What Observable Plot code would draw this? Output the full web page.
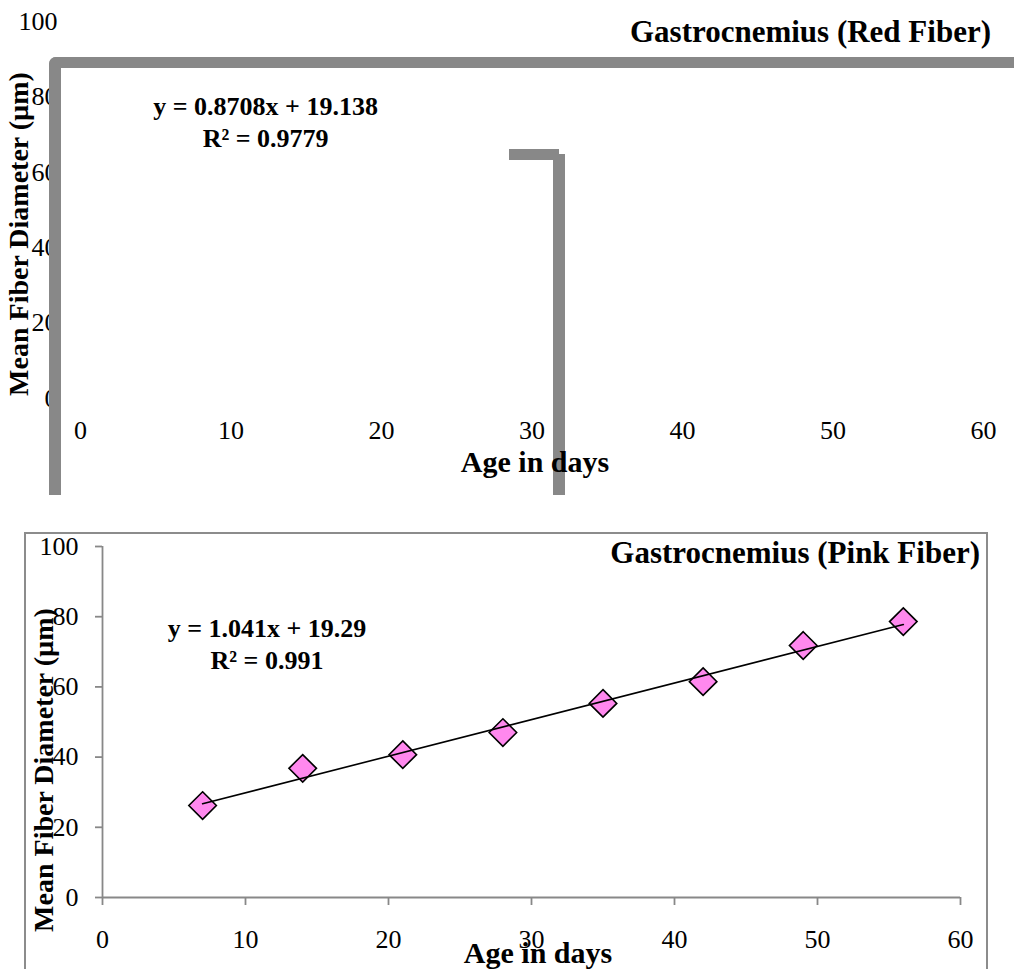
<!DOCTYPE html>
<html>
<head>
<meta charset="utf-8">
<script src="https://cdn.jsdelivr.net/npm/d3@7"></script>
<script src="https://cdn.jsdelivr.net/npm/@observablehq/plot@0.6"></script>
<style>
  html, body { margin: 0; padding: 0; background: #fff; }
  #wrap { position: relative; width: 1014px; height: 969px; overflow: hidden;
          font-family: "Liberation Serif", "Times New Roman", serif; }
  .abs { position: absolute; }
  .bar { position: absolute; background: #888888; }
  svg { display: block; }
  svg text { font-family: "Liberation Serif", "Times New Roman", serif; }
</style>
</head>
<body>
<div id="wrap"></div>
<script>
// ---- data ----
const ageTicks = [0, 10, 20, 30, 40, 50, 60];
const diamTicks = [0, 20, 40, 60, 80, 100];
const pinkAge = [7, 14, 21, 28, 35, 42, 49, 56];
const pinkDiam = [26.2, 36.8, 40.7, 47.0, 55.3, 61.5, 71.8, 78.6];
const redTitle = "Gastrocnemius (Red Fiber)";
const pinkTitle = "Gastrocnemius (Pink Fiber)";
const redEquation = ["y = 0.8708x + 19.138", "R² = 0.9779"];
const pinkEquation = ["y = 1.041x + 19.29", "R² = 0.991"];
const xTitle = "Age in days";
const yTitle = "Mean Fiber Diameter (µm)";

const pinkData = pinkAge.map((a, i) => ({age: a, diam: pinkDiam[i]}));

const wrap = document.getElementById("wrap");
const font = "'Liberation Serif', 'Times New Roman', serif";

// ---- top panel (red fiber) ----
const topPlot = Plot.plot({
  width: 1014, height: 500,
  marginTop: 21, marginBottom: 102, marginLeft: 80, marginRight: 31,
  x: {domain: [0, 60], label: null},
  y: {domain: [0, 100], label: null},
  style: {fontFamily: font, fontSize: "26px", background: "transparent", color: "black", overflow: "visible"},
  marks: [
    Plot.axisY(diamTicks, {tickSize: 0, tickPadding: 23, fill: "black", fontSize: 26, fontFamily: font, label: null}),
    Plot.axisX(ageTicks, {tickSize: 0, tickPadding: 22, fill: "black", fontSize: 26, fontFamily: font, label: null}),
    Plot.text(redEquation, {x: 12.3, y: (d, i) => [75.1, 66.6][i], text: d => d,
      fontWeight: "bold", fontSize: 26, fontFamily: font, textAnchor: "middle", lineAnchor: "bottom", fill: "black"})
  ]
});
topPlot.style.position = "absolute";
topPlot.style.left = "0px";
topPlot.style.top = "0px";
wrap.appendChild(topPlot);

// broken thick grey border pieces of the top panel
const clip = document.createElement("div");
clip.className = "abs";
Object.assign(clip.style, {left: "0px", top: "0px", width: "1014px", height: "495px", overflow: "hidden"});
const big = document.createElement("div");
big.className = "abs";
Object.assign(big.style, {left: "49px", top: "57px", width: "2000px", height: "1000px",
  borderTop: "11px solid #888", borderLeft: "12px solid #888", borderTopLeftRadius: "7px", boxSizing: "border-box"});
clip.appendChild(big);
const stub = document.createElement("div");
stub.className = "bar";
Object.assign(stub.style, {left: "509px", top: "149px", width: "50px", height: "11px"});
clip.appendChild(stub);
const post = document.createElement("div");
post.className = "bar";
Object.assign(post.style, {left: "553px", top: "154px", width: "12px", height: "400px"});
clip.appendChild(post);
wrap.appendChild(clip);

// ---- bottom panel frame ----
const frame = document.createElement("div");
frame.className = "abs";
Object.assign(frame.style, {left: "24px", top: "532px", width: "964px", height: "600px",
  border: "2px solid #8c8c8c", boxSizing: "border-box"});
wrap.appendChild(frame);

// ---- bottom panel (pink fiber) ----
const botPlot = Plot.plot({
  width: 1014, height: 469,
  marginTop: 46, marginBottom: 72, marginLeft: 102, marginRight: 54,
  x: {domain: [0, 60], label: null},
  y: {domain: [0, 100], label: null},
  style: {fontFamily: font, fontSize: "26px", background: "transparent", color: "black", overflow: "visible"},
  marks: [
    Plot.ruleX([0], {stroke: "#888", strokeWidth: 1.8}),
    Plot.ruleY([0], {stroke: "#888", strokeWidth: 1.8}),
    Plot.axisY(diamTicks, {tickSize: 7, tickPadding: 17, stroke: "#888", strokeWidth: 1.8, fill: "black", fontSize: 26, fontFamily: font, label: null}),
    Plot.axisX(ageTicks, {tickSize: 8, tickPadding: 24, stroke: "#888", strokeWidth: 1.8, fill: "black", fontSize: 26, fontFamily: font, label: null}),
    Plot.dot(pinkData, {x: "age", y: "diam", symbol: "diamond2", r: 12.4,
      fill: "#ff88ee", stroke: "black", strokeWidth: 1.6}),
    Plot.linearRegressionY(pinkData, {x: "age", y: "diam", ci: 0, stroke: "black", strokeWidth: 1.6}),
    Plot.text(pinkEquation, {x: 11.5, y: (d, i) => [74.1, 65.2][i], text: d => d,
      fontWeight: "bold", fontSize: 26, fontFamily: font, textAnchor: "middle", lineAnchor: "bottom", fill: "black"})
  ]
});
botPlot.style.position = "absolute";
botPlot.style.left = "0px";
botPlot.style.top = "500px";
wrap.appendChild(botPlot);

// ---- titles (overlay) ----
const ns = "http://www.w3.org/2000/svg";
const ov = document.createElementNS(ns, "svg");
ov.setAttribute("width", 1014);
ov.setAttribute("height", 969);
ov.style.position = "absolute";
ov.style.left = "0px";
ov.style.top = "0px";
ov.style.overflow = "visible";
function addText(str, x, y, size, anchor, rot) {
  const t = document.createElementNS(ns, "text");
  t.textContent = str;
  t.setAttribute("font-family", font);
  t.setAttribute("font-weight", "bold");
  t.setAttribute("font-size", size);
  t.setAttribute("text-anchor", anchor);
  t.setAttribute("fill", "black");
  if (rot) t.setAttribute("transform", `translate(${x},${y}) rotate(-90)`);
  else { t.setAttribute("x", x); t.setAttribute("y", y); }
  ov.appendChild(t);
}
addText(redTitle, 991, 42, 31, "end");
addText(xTitle, 535, 472, 30, "middle");
addText(yTitle, 28, 234, 28, "middle", true);
addText(pinkTitle, 980, 563, 31, "end");
addText(xTitle, 538, 963, 30, "middle");
addText(yTitle, 53, 770, 28, "middle", true);
wrap.appendChild(ov);
</script>
</body>
</html>
